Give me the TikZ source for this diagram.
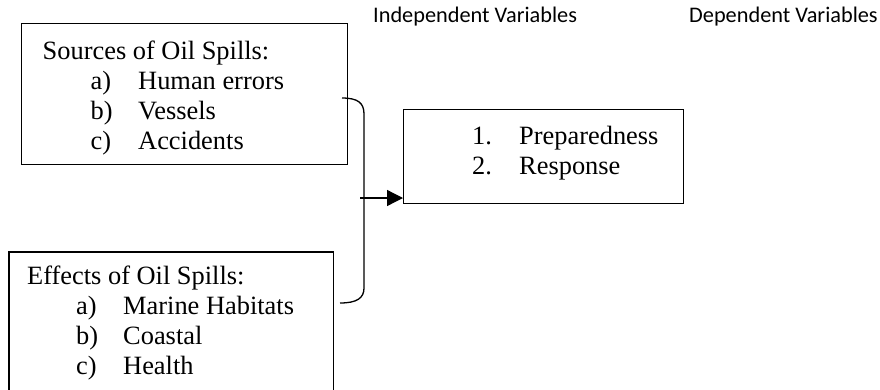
\documentclass[tikz,border=0pt]{standalone}
\usepackage{fontspec}
\setmainfont{Liberation Serif}
\newfontfamily\calib{Carlito}
\usetikzlibrary{arrows.meta}
\tikzset{
  box/.style={draw, line width=1.3pt, inner sep=0pt, anchor=north west},
  txt/.style={anchor=base west, inner sep=0pt, font=\fontsize{26.4}{30}\selectfont},
  hdr/.style={anchor=base west, inner sep=0pt, font=\calib\fontsize{22.3}{26}\selectfont},
  conn/.style={line width=1.3pt},
}
\begin{document}
\begin{tikzpicture}[x=1pt,y=-1pt]
\useasboundingbox (0,0) rectangle (880,389);
% headers
\node[hdr] (hind) at (373,22) {Independent Variables};
\node[hdr] (hdep) at (689,22) {Dependent Variables};
% sources box
\node[box, minimum width=326pt, minimum height=141pt] (src) at (21,23) {};
\node[txt] (s0) at (42.5,59) {Sources of Oil Spills:};
\node[txt] (s1l) at (90.5,89.5) {a)};
\node[txt] (s1) at (138,89.5) {Human errors};
\node[txt] (s2l) at (90.5,119.5) {b)};
\node[txt] (s2) at (138,119.5) {Vessels};
\node[txt] (s3l) at (90.5,149.5) {c)};
\node[txt] (s3) at (138,149.5) {Accidents};
% dependent box
\node[box, minimum width=280pt, minimum height=94pt] (dep) at (403,109) {};
\node[txt] (d1l) at (472,144) {1.};
\node[txt] (d1) at (519,144) {Preparedness};
\node[txt] (d2l) at (472,174) {2.};
\node[txt] (d2) at (519,174) {Response};
% effects box (bottom runs off the page)
\node[inner sep=0pt, minimum width=324pt, minimum height=150pt, anchor=north west] (eff) at (9,252) {};
\draw[line width=1.3pt] (eff.south west) -- (eff.north west) -- (eff.north east) -- (eff.south east);
\node[txt] (e0) at (27,284) {Effects of Oil Spills:};
\node[txt] (e1l) at (76,314) {a)};
\node[txt] (e1) at (123,314) {Marine Habitats};
\node[txt] (e2l) at (76,344) {b)};
\node[txt] (e2) at (123,344) {Coastal};
\node[txt] (e3l) at (76,374) {c)};
\node[txt] (e3) at (123,374) {Health};
% bracket
\coordinate (bt) at (342,98);
\coordinate (bb) at (340,303);
\draw[conn] (bt) .. controls (358,98) and (364,103) .. (364,114)
  -- (364,288) .. controls (364,298) and (357,303) .. (bb);
% arrow
\coordinate (as) at (360,198);
\draw[conn, -{Triangle[length=16pt,width=16pt]}] (as) -- (dep.west |- as);
\end{tikzpicture}
\end{document}
